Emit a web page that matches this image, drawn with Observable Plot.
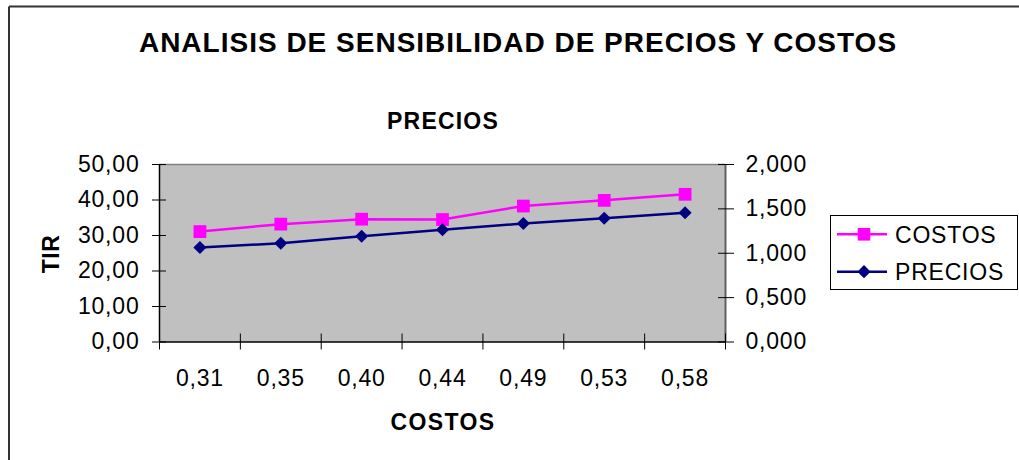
<!DOCTYPE html>
<html><head><meta charset="utf-8">
<script src="https://cdn.jsdelivr.net/npm/d3@7"></script>
<script src="https://cdn.jsdelivr.net/npm/@observablehq/plot@0.6"></script>
<style>
html,body{margin:0;padding:0;background:#fff;}
#wrap{position:relative;width:1019px;height:460px;overflow:hidden;font-family:"Liberation Sans",Arial,sans-serif;}
#chart{position:absolute;left:0;top:0;}
#overlay{position:absolute;left:0;top:0;pointer-events:none;}
</style></head><body>
<div id="wrap"><div id="chart"></div><svg id="overlay" width="1019" height="460"></svg></div>
<script>
// ---- data ----
const costosLabels = ["0,31","0,35","0,40","0,44","0,49","0,53","0,58"];
const costosTir = [31.1, 33.2, 34.6, 34.5, 38.3, 39.9, 41.6];      // left axis (TIR)
const preciosTir = [1.065, 1.113, 1.192, 1.264, 1.335, 1.395, 1.456]; // right axis
const leftTicks = [0, 10, 20, 30, 40, 50];
const rightTicks = [0, 0.5, 1, 1.5, 2];
const seriesNames = ["COSTOS", "PRECIOS"];
const seriesColors = ["#ff00ff", "#000080"];
const titleText = "ANALISIS DE SENSIBILIDAD DE PRECIOS Y COSTOS";
const topAxisTitle = "PRECIOS";
const xAxisTitle = "COSTOS";
const yAxisTitle = "TIR";

// ---- derived ----
const ratio = leftTicks[leftTicks.length - 1] / rightTicks[rightTicks.length - 1];
const idx = costosLabels.map((_, i) => i);
const bounds = [...idx.map(i => i - 0.5), idx.length - 0.5];
const rowsC = costosTir.map((v, i) => ({i, v}));
const rowsP = preciosTir.map((v, i) => ({i, v}));

const chart = Plot.plot({
  width: 1019,
  height: 460,
  marginLeft: 159,
  marginRight: 294,
  marginTop: 164,
  marginBottom: 118.5,
  style: {fontFamily: "'Liberation Sans', Arial, sans-serif", fontSize: "23px", letterSpacing: "0.8px", color: "#000", background: "transparent"},
  x: {type: "linear", domain: [bounds[0], bounds[bounds.length - 1]]},
  y: {type: "linear", domain: [leftTicks[0], leftTicks[leftTicks.length - 1]]},
  marks: [
    Plot.frame({fill: "#c0c0c0", stroke: null}),
    Plot.ruleY([leftTicks[leftTicks.length - 1]], {stroke: "#808080", strokeWidth: 1.5}),
    Plot.ruleX([bounds[bounds.length - 1]], {stroke: "#606060", strokeWidth: 2}),
    Plot.ruleX([bounds[0]], {stroke: "#000", strokeWidth: 1.5}),
    Plot.ruleY([leftTicks[0]], {stroke: "#000", strokeWidth: 1.5}),
    Plot.axisY(leftTicks, {anchor: "left", tickSize: 14, dx: 7, tickPadding: 13, label: null,
      tickFormat: d => d.toFixed(2).replace(".", ","), stroke: "#000"}),
    Plot.axisY(rightTicks.map(t => t * ratio), {anchor: "right", tickSize: 16, dx: -8, tickPadding: 12, label: null,
      tickFormat: d => (d / ratio).toFixed(3).replace(".", ","), stroke: "#000"}),
    Plot.axisX(bounds, {anchor: "bottom", tickSize: 16, dy: -8, label: null, tickFormat: () => "", stroke: "#000"}),
    Plot.axisX(idx, {anchor: "bottom", tickSize: 0, tickPadding: 28, label: null, tickFormat: i => costosLabels[i]}),
    Plot.line(rowsC, {x: "i", y: "v", stroke: seriesColors[0], strokeWidth: 2.5}),
    Plot.line(rowsP, {x: "i", y: d => d.v * ratio, stroke: seriesColors[1], strokeWidth: 2.5}),
    Plot.dot(rowsC, {x: "i", y: "v", symbol: "square", r: 7.2, fill: seriesColors[0], stroke: null}),
    Plot.dot(rowsP, {x: "i", y: d => d.v * ratio, symbol: d3.symbolDiamond2, r: 5.9, fill: seriesColors[1], stroke: null})
  ]
});
document.getElementById("chart").appendChild(chart);

// ---- overlay: titles, border, legend ----
const ov = d3.select("#overlay");
const font = "'Liberation Sans', Arial, sans-serif";
ov.append("line").attr("x1", 9).attr("x2", 1019).attr("y1", 6.5).attr("y2", 6.5).attr("stroke", "#333").attr("stroke-width", 2);
ov.append("line").attr("x1", 9).attr("x2", 9).attr("y1", 6.5).attr("y2", 460).attr("stroke", "#333").attr("stroke-width", 2);

function txt(s, x, y, size, opts = {}) {
  const t = ov.append("text").attr("x", x).attr("y", y).text(s)
    .attr("font-family", font).attr("font-size", size).attr("fill", "#000")
    .attr("font-weight", opts.bold ? "bold" : "normal")
    .attr("text-anchor", opts.anchor || "middle")
    .style("letter-spacing", (opts.ls || 0) + "px");
  if (opts.rotate) t.attr("transform", `rotate(${opts.rotate},${x},${y})`);
  return t;
}
txt(titleText, 518, 52, 28, {bold: true, ls: 1});
txt(topAxisTitle, 443, 128.5, 23, {bold: true, ls: 1.2});
txt(xAxisTitle, 443, 430, 23, {bold: true, ls: 1.4});
txt(yAxisTitle, 58.5, 254, 23, {bold: true, ls: 0.5, rotate: -90});

// legend
const lg = ov.append("g");
lg.append("rect").attr("x", 830.5).attr("y", 215.5).attr("width", 187).attr("height", 74)
  .attr("fill", "#fff").attr("stroke", "#000").attr("stroke-width", 1);
const rowsY = [234.3, 271.7];
seriesNames.forEach((name, k) => {
  const y = rowsY[k];
  lg.append("line").attr("x1", 837).attr("x2", 887).attr("y1", y).attr("y2", y)
    .attr("stroke", seriesColors[k]).attr("stroke-width", 2.5);
  const sym = k === 0 ? d3.symbolSquare : d3.symbolDiamond2;
  const size = k === 0 ? 12.6 * 12.6 : Math.pow(6.6 / 0.62625, 2);
  lg.append("path").attr("d", d3.symbol(sym, size)()).attr("transform", `translate(864,${y})`)
    .attr("fill", seriesColors[k]);
  txt(name, 895, y + 8.2, 23, {anchor: "start", ls: 0.8});
});
</script>
</body></html>
